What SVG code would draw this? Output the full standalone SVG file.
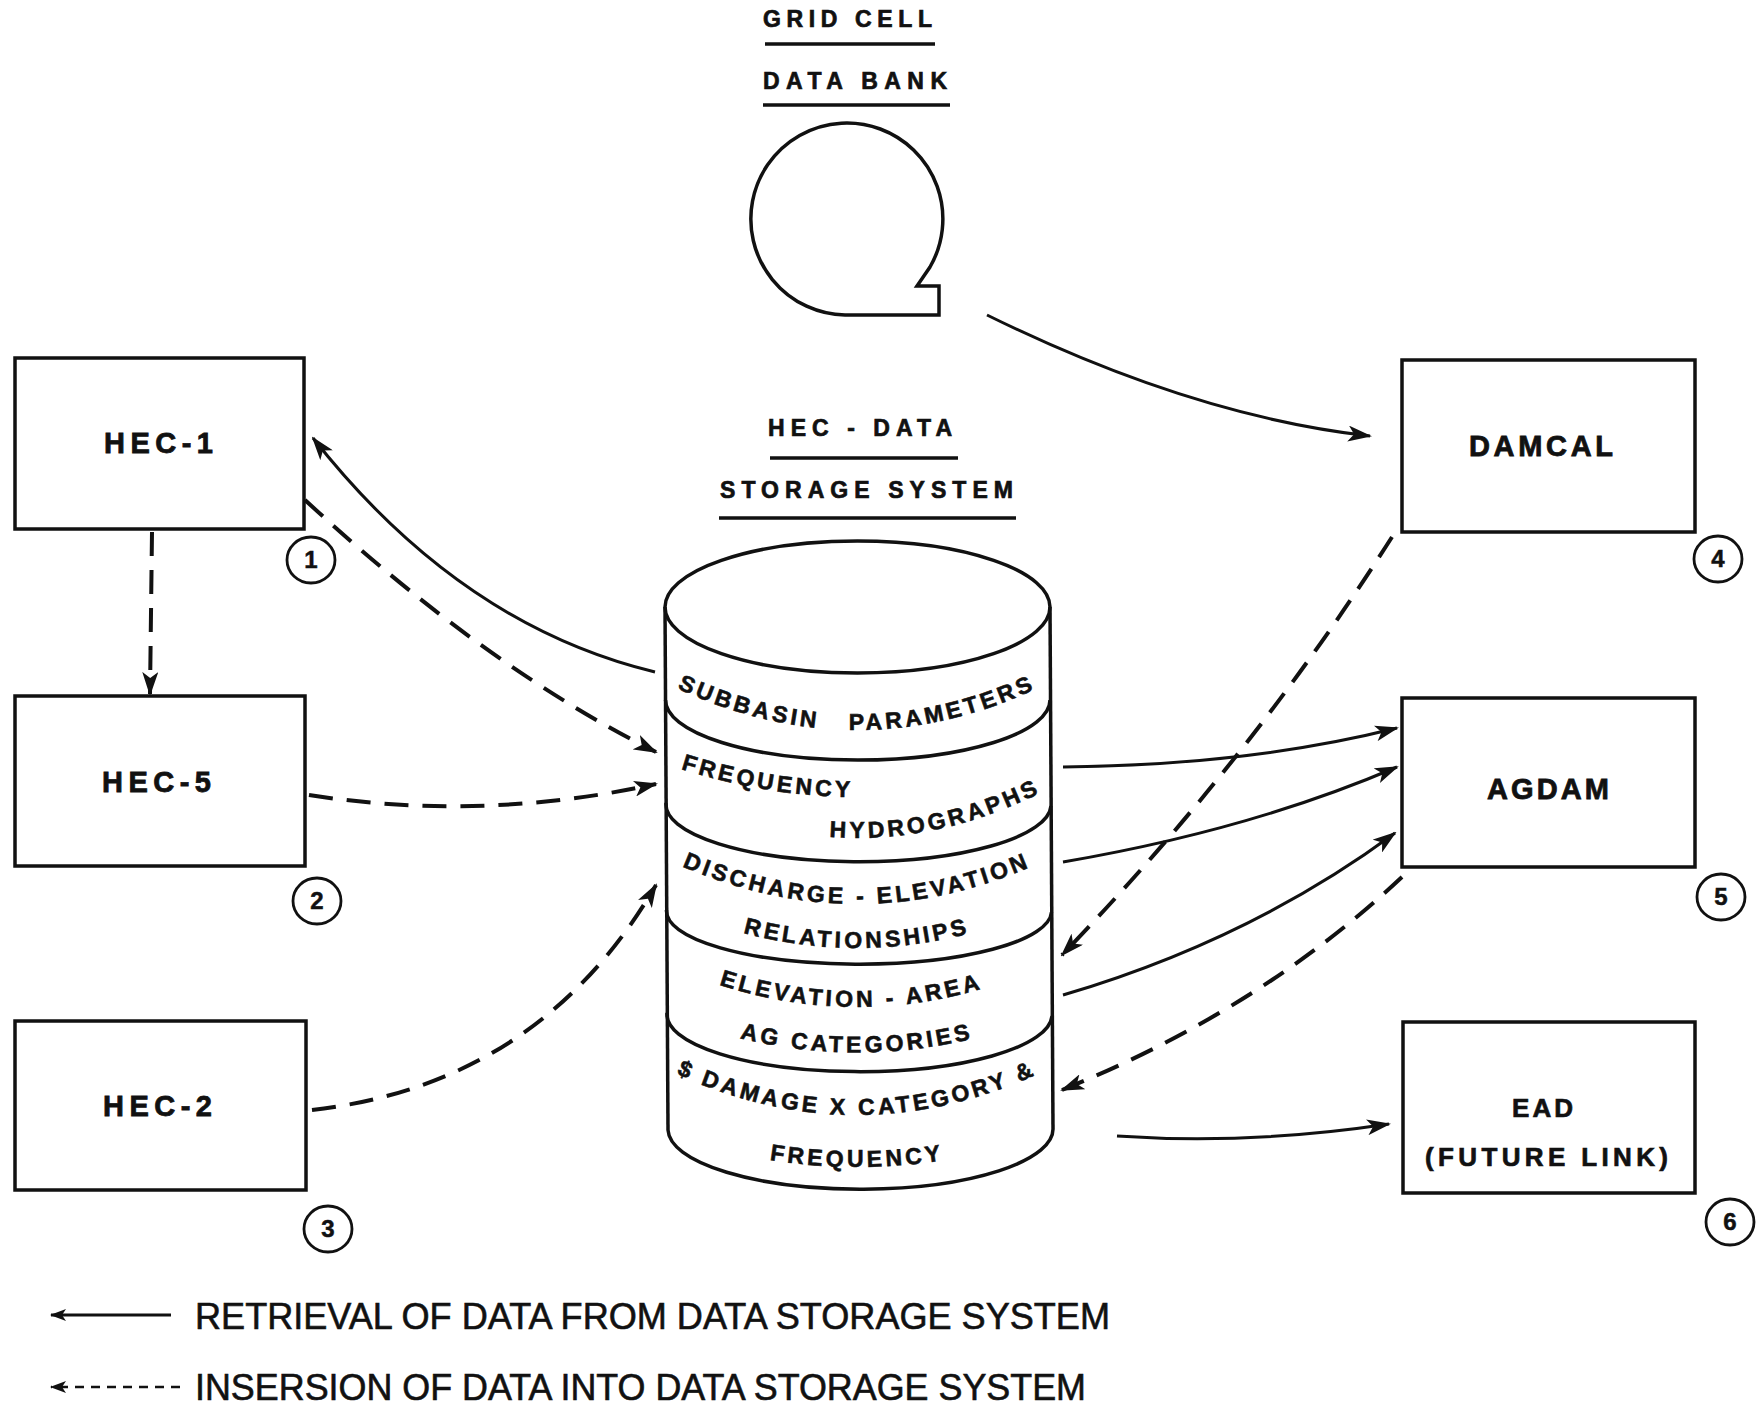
<svg xmlns="http://www.w3.org/2000/svg" width="1764" height="1414" viewBox="0 0 1764 1414">
<style>
.bg{fill:#fff}
.box{fill:none;stroke:#111;stroke-width:3.5}
.ln{fill:none;stroke:#111;stroke-width:3.5}
.lbl{font-family:"Liberation Sans",Arial,sans-serif;font-weight:bold;fill:#111;stroke:#111;stroke-width:0.8;font-size:29px}
.lbl2{font-family:"Liberation Sans",Arial,sans-serif;font-weight:bold;fill:#111;stroke:#111;stroke-width:0.7;font-size:26px}
.ttl{font-family:"Liberation Sans",Arial,sans-serif;font-weight:bold;fill:#111;stroke:#111;stroke-width:0.7;font-size:23px}
.band{font-family:"Liberation Sans",Arial,sans-serif;font-weight:bold;fill:#111;stroke:#111;stroke-width:0.6;font-size:23px;letter-spacing:3.5px;white-space:pre}
.num{font-family:"Liberation Sans",Arial,sans-serif;font-weight:bold;fill:#111;stroke:#111;stroke-width:0.5;font-size:24px;text-anchor:middle}
.leg{font-family:"Liberation Sans",Arial,sans-serif;fill:#111;stroke:#111;stroke-width:0.6;font-size:37px}
.ring{fill:none;stroke:#111;stroke-width:2.8}
.solid{fill:none;stroke:#111;stroke-width:3}
.dash{fill:none;stroke:#111;stroke-width:4;stroke-dasharray:24 14}
.sdash{fill:none;stroke:#111;stroke-width:2.5;stroke-dasharray:9 7}
</style>
<defs>
<marker id="ah" viewBox="0 0 24 16" refX="22" refY="8" markerWidth="24" markerHeight="16" markerUnits="userSpaceOnUse" orient="auto">
<path d="M0,0 L24,8 L0,16 L6,8 z" fill="#111"/>
</marker>
<marker id="ahs" viewBox="0 0 16 12" refX="15" refY="6" markerWidth="16" markerHeight="12" markerUnits="userSpaceOnUse" orient="auto">
<path d="M0,0 L16,6 L0,12 L4,6 z" fill="#111"/>
</marker>
<path id="t1" d="M672,686 Q857,774 1042,686"/>
<path id="t2a" d="M672,766 Q857,828 1042,766"/>
<path id="t2b" d="M672,792 Q857,884 1042,792"/>
<path id="t3a" d="M672,862 Q857,946 1042,862"/>
<path id="t3b" d="M672,908 Q857,988 1042,908"/>
<path id="t4a" d="M672,967 Q857,1047 1042,967"/>
<path id="t4b" d="M672,1017 Q857,1088 1042,1017"/>
<path id="t5a" d="M672,1072 Q857,1158 1042,1072"/>
<path id="t5b" d="M672,1136 Q857,1198 1042,1136"/>
</defs>
<rect class="bg" x="0" y="0" width="1764" height="1414"/>

<g id="grid-cell-data-bank">
<text class="ttl" x="763" y="27" textLength="169" lengthAdjust="spacing">GRID CELL</text>
<line class="ln" x1="765" y1="44" x2="935" y2="44"/>
<text class="ttl" x="763" y="89" textLength="184" lengthAdjust="spacing">DATA BANK</text>
<line class="ln" x1="763" y1="105" x2="950" y2="105"/>
<path class="ln" d="M930,267 A96,96 0 1 0 845,315 L939,315 L939,286 L917,286 Z"/>
</g>

<g id="hec-data-storage-system">
<text class="ttl" x="768" y="436" textLength="184" lengthAdjust="spacing">HEC - DATA</text>
<line class="ln" x1="770" y1="458" x2="958" y2="458"/>
<text class="ttl" x="720" y="498" textLength="293" lengthAdjust="spacing">STORAGE SYSTEM</text>
<line class="ln" x1="719" y1="518" x2="1016" y2="518"/>
<ellipse class="ln" cx="857.5" cy="607" rx="192.5" ry="66"/>
<line class="ln" x1="665" y1="607" x2="668" y2="1130"/>
<line class="ln" x1="1050" y1="607" x2="1053" y2="1128"/>
<path class="ln" d="M665.5,700 A192,60 0 0 0 1050,700"/>
<path class="ln" d="M666,803 A192,57 0 0 0 1051,806"/>
<path class="ln" d="M666.5,910 A192,53 0 0 0 1051.5,912"/>
<path class="ln" d="M667,1013 A192,57 0 0 0 1052,1016"/>
<path class="ln" d="M668,1130 A192,60 0 0 0 1053,1128"/>
<text class="band" text-anchor="middle"><textPath href="#t1" startOffset="50%">SUBBASIN&#160;&#160;&#160;PARAMETERS</textPath></text>
<text class="band"><textPath href="#t2a" startOffset="9">FREQUENCY</textPath></text>
<text class="band" text-anchor="end"><textPath href="#t2b" startOffset="100%">HYDROGRAPHS</textPath></text>
<text class="band" text-anchor="middle"><textPath href="#t3a" startOffset="50%">DISCHARGE - ELEVATION</textPath></text>
<text class="band" text-anchor="middle"><textPath href="#t3b" startOffset="50%">RELATIONSHIPS</textPath></text>
<text class="band" text-anchor="middle"><textPath href="#t4a" startOffset="48.5%">ELEVATION - AREA</textPath></text>
<text class="band" text-anchor="middle"><textPath href="#t4b" startOffset="50%">AG CATEGORIES</textPath></text>
<text class="band" text-anchor="middle"><textPath href="#t5a" startOffset="50%">$ DAMAGE X CATEGORY &amp;</textPath></text>
<text class="band" text-anchor="middle"><textPath href="#t5b" startOffset="50%">FREQUENCY</textPath></text>
</g>

<g id="hec-1">
<rect class="box" x="15" y="358" width="289" height="171"/>
<text class="lbl" x="104" y="453" textLength="109" lengthAdjust="spacing">HEC-1</text>
<ellipse class="ring" cx="311" cy="560" rx="24" ry="23"/>
<text class="num" x="311" y="568">1</text>
</g>
<g id="hec-5">
<rect class="box" x="15" y="696" width="290" height="170"/>
<text class="lbl" x="102" y="792" textLength="109" lengthAdjust="spacing">HEC-5</text>
<ellipse class="ring" cx="317" cy="901" rx="24" ry="23"/>
<text class="num" x="317" y="909">2</text>
</g>
<g id="hec-2">
<rect class="box" x="15" y="1021" width="291" height="169"/>
<text class="lbl" x="103" y="1116" textLength="109" lengthAdjust="spacing">HEC-2</text>
<ellipse class="ring" cx="328" cy="1229" rx="24" ry="23"/>
<text class="num" x="328" y="1237">3</text>
</g>
<g id="damcal">
<rect class="box" x="1402" y="360" width="293" height="172"/>
<text class="lbl" x="1469" y="456" textLength="144" lengthAdjust="spacing">DAMCAL</text>
<ellipse class="ring" cx="1718" cy="559" rx="24" ry="23"/>
<text class="num" x="1718" y="567">4</text>
</g>
<g id="agdam">
<rect class="box" x="1402" y="698" width="293" height="169"/>
<text class="lbl" x="1487" y="799" textLength="122" lengthAdjust="spacing">AGDAM</text>
<ellipse class="ring" cx="1721" cy="897" rx="24" ry="23"/>
<text class="num" x="1721" y="905">5</text>
</g>
<g id="ead">
<rect class="box" x="1403" y="1022" width="292" height="171"/>
<text class="lbl2" x="1512" y="1117" textLength="61" lengthAdjust="spacing">EAD</text>
<text class="lbl2" x="1425" y="1166" textLength="243" lengthAdjust="spacing">(FUTURE LINK)</text>
<ellipse class="ring" cx="1730" cy="1222" rx="24" ry="23"/>
<text class="num" x="1730" y="1230">6</text>
</g>

<g id="connectors">
<path class="solid" d="M987,315 Q1192,416 1370,436" marker-end="url(#ah)"/>
<path class="solid" d="M655,672 Q460,625 313,438" marker-end="url(#ah)"/>
<path class="dash" d="M305,500 Q487,668 656,752" marker-end="url(#ah)"/>
<path class="dash" d="M152,532 L150,694" marker-end="url(#ah)"/>
<path class="dash" d="M309,795 Q482,822 656,784" marker-end="url(#ah)"/>
<path class="dash" d="M312,1110 Q540,1084 656,885" marker-end="url(#ah)"/>
<path class="solid" d="M1063,767 Q1250,765 1397,728" marker-end="url(#ah)"/>
<path class="solid" d="M1063,862 Q1250,830 1397,767" marker-end="url(#ah)"/>
<path class="solid" d="M1063,995 Q1250,940 1395,833" marker-end="url(#ah)"/>
<path class="dash" d="M1392,537 Q1250,760 1062,955" marker-end="url(#ah)"/>
<path class="dash" d="M1402,877 Q1260,1010 1062,1090" marker-end="url(#ah)"/>
<path class="solid" d="M1117,1136 Q1250,1145 1389,1124" marker-end="url(#ah)"/>
</g>

<g id="legend">
<line class="solid" x1="171" y1="1315" x2="51" y2="1315" marker-end="url(#ahs)"/>
<text class="leg" x="195" y="1329" textLength="915" lengthAdjust="spacingAndGlyphs">RETRIEVAL OF DATA FROM DATA STORAGE SYSTEM</text>
<line class="sdash" x1="180" y1="1387" x2="51" y2="1387" marker-end="url(#ahs)"/>
<text class="leg" x="195" y="1400" textLength="891" lengthAdjust="spacingAndGlyphs">INSERSION OF DATA INTO DATA STORAGE SYSTEM</text>
</g>
</svg>
